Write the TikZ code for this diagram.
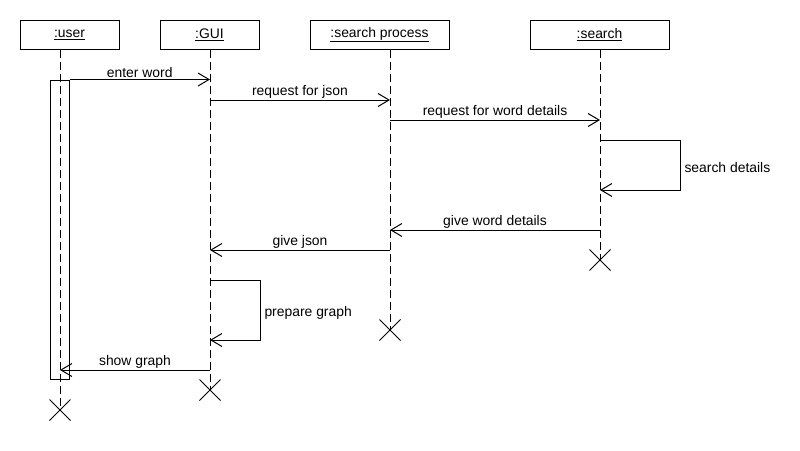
\documentclass[tikz,border=0pt]{standalone}
\usepackage{fontspec}
\setmainfont{Liberation Sans}
\usetikzlibrary{arrows.meta,shapes.misc}

\begin{document}
\begin{tikzpicture}[x=1pt,y=-1pt,line width=1pt,
    every node/.style={font=\fontsize{13.9}{16}\selectfont},
    obj/.style={draw,minimum height=29pt,inner sep=0pt},
    life/.style={dash pattern=on 8pt off 4pt},
    kill/.style={draw,cross out,minimum size=20pt,inner sep=0pt},
    msg/.style={-{Straight Barb[length=11pt,width=13pt]}},
    lbl/.style={above,inner sep=1pt}]
  \useasboundingbox (0,0) rectangle (800,450);

  % objects
  \node[obj,minimum width=99pt]  (user)   at (69.5,34.5)  {\underline{:user}};
  \node[obj,minimum width=99pt]  (gui)    at (209.5,34.5) {\underline{:GUI}};
  \node[obj,minimum width=139pt] (proc)   at (379.5,34.5) {\underline{:search process}};
  \node[obj,minimum width=139pt] (search) at (599.5,34.5) {\underline{:search}};

  % ends of the lifelines
  \node[kill] (userx)   at (60,410)  {};
  \node[kill] (guix)    at (210,390) {};
  \node[kill] (procx)   at (390,330) {};
  \node[kill] (searchx) at (600,260) {};

  \draw[life] (user.south -| userx)     -- (userx.center);
  \draw[life] (gui.south -| guix)       -- (guix.center);
  \draw[life] (proc.south -| procx)     -- (procx.center);
  \draw[life] (search.south -| searchx) -- (searchx.center);

  % activation of the user
  \node[draw,minimum width=19pt,minimum height=299pt,inner sep=0pt] (bar) at (59.5,229.5) {};

  % messages
  \coordinate (gui1)    at (210,100);
  \coordinate (proc1)   at (390,120);
  \coordinate (search1) at (600,230);
  \coordinate (proc2)   at (390,250);
  \coordinate (gui2)    at (210,370);

  \path (bar.north east) edge[msg] node[lbl]{enter word} (bar.north east -| guix);
  \path (gui1) edge[msg] node[lbl]{request for json} (gui1 -| procx);
  \path (proc1) edge[msg] node[lbl]{request for word details} (proc1 -| searchx);
  \path (search1) edge[msg] node[lbl]{give word details} (search1 -| procx);
  \path (proc2) edge[msg] node[lbl]{give json} (proc2 -| guix);
  \path (gui2) edge[msg] node[lbl]{show graph} (gui2 -| userx);

  % self calls
  \coordinate (s1) at (600,140);
  \coordinate (s2) at (600,190);
  \draw[msg] (s1) -- ++(80,0) -- node[right,inner sep=4pt,yshift=-3pt]{search details} ++(0,50) -- (s2);
  \coordinate (g1) at (210,280);
  \coordinate (g2) at (210,340);
  \draw[msg] (g1) -- ++(50,0) -- node[right,inner sep=4pt,yshift=-3pt]{prepare graph} ++(0,60) -- (g2);
\end{tikzpicture}
\end{document}
